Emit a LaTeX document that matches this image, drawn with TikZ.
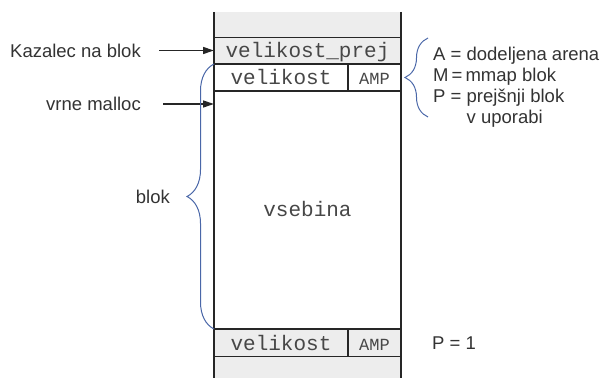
\documentclass[tikz,border=0pt]{standalone}
\usepackage{fontspec}
\setmainfont{Liberation Sans}
\setmonofont{Liberation Mono}
\usetikzlibrary{arrows.meta,positioning,calc,decorations.pathreplacing}
\definecolor{crna}{HTML}{262626}
\definecolor{siva}{HTML}{EDEDED}
\definecolor{tekst}{HTML}{333333}
\definecolor{tekstc}{HTML}{474747}
\definecolor{modra}{HTML}{4A67A8}
\tikzset{
  celica/.style={draw=crna,fill=white,line width=1.2pt,outer sep=0pt,inner sep=0pt,minimum height=27pt,text height=14pt,text depth=0pt,font=\fontsize{21}{21}\selectfont\ttfamily,text=tekstc},
  celicas/.style={celica,fill=siva},
  ampcel/.style={celica,minimum width=53pt,font=\fontsize{17}{17}\selectfont\ttfamily},
  pas/.style={fill=siva,outer sep=0pt,inner sep=0pt,minimum width=187pt},
  oznaka/.style={font=\fontsize{18.5}{21}\selectfont,text=tekst,inner sep=2pt},
  arr/.style={-{Triangle[length=11pt,width=7pt]},line width=1.3pt,color=crna},
  zavit/.style={decorate,decoration={brace,amplitude=#1},draw=modra,line width=1pt},
}
\begin{document}
\begin{tikzpicture}[x=1pt,y=1pt]
\useasboundingbox (0,0) rectangle (616,378);
\node[celicas,minimum width=187pt] (prej) at (307.5,327.5) {velikost\_prej};
\node[pas,minimum height=25pt,above right=0pt of prej.north west] (vrh) {};
\node[celica,minimum width=134pt,below right=0pt of prej.south west] (vel) {velikost};
\node[ampcel,right=0pt of vel] (amp) {AMP};
\node[celica,minimum width=187pt,minimum height=238pt,below right=0pt of vel.south west] (vsebina) {vsebina};
\node[celicas,minimum width=134pt,minimum height=28pt,below right=0pt of vsebina.south west] (vel2) {velikost};
\node[ampcel,fill=siva,minimum height=28pt,right=0pt of vel2] (amp2) {AMP};
\node[pas,minimum height=21pt,below right=0pt of vel2.south west] (dno) {};
\draw[line width=1.2pt,crna] (vrh.north west) -- (dno.south west) (vrh.north east) -- (dno.south east);
\node[oznaka,left=71pt of prej] (kazalec) {Kazalec na blok};
\node[oznaka,anchor=east] (vrne) at (143,274) {vrne malloc};
\draw[arr,shorten <=16pt] (kazalec.east) -- (kazalec.east -| prej.west);
\draw[arr,shorten <=20pt] (vrne.east) -- (vrne.east -| vsebina.west);
\coordinate (konica) at ($(vsebina.south west)!.5!(prej.south west)+(-27,0)$);
\draw[zavit=27pt] (vsebina.south west) -- (prej.south west);
\node[oznaka,left=15pt of konica] (blok) {blok};
\coordinate (d1) at ([shift={(27,-39.5)}]amp.east);
\coordinate (d2) at ([shift={(27,39.5)}]amp.east);
\draw[zavit=23pt] (d1) -- (d2);
\node[oznaka,anchor=north west,align=left,inner sep=0pt] (legenda) at (433,331) {A = dodeljena arena\\M\,=\,mmap blok\\P = prejšnji blok\\\phantom{P = }v uporabi};
\node[oznaka,right=29pt of amp2] (p1) {P = 1};
\end{tikzpicture}
\end{document}
